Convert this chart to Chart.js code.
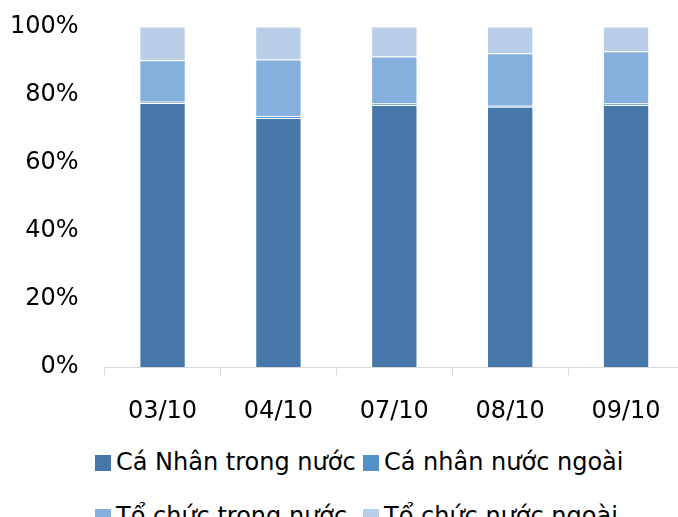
<!DOCTYPE html>
<html>
<head>
<meta charset="utf-8">
<script src="https://cdn.jsdelivr.net/npm/chart.js@4"></script>
<style>
    html, body { margin: 0; padding: 0; background: #fff; overflow: hidden; width: 678px; height: 517px; }
    #stack-chart { position: absolute; left: -16px; top: -14px; }
    #legend { position: absolute; left: 0; top: 0; font-family: "DejaVu Sans", sans-serif; font-size: 24px; color: #000; }
    .item { position: absolute; white-space: nowrap; height: 28px; line-height: 28px; }
    .box { display: inline-block; width: 16px; height: 16px; margin-right: 5px; vertical-align: -1px; }
</style>
</head>
<body>
<canvas id="stack-chart" width="700" height="462"></canvas>
<div id="legend"></div>
<script>
    // dati (percentuali)
    var categories = ['03/10', '04/10', '07/10', '08/10', '09/10'];
    var caNhanTrongNuoc = [77.5, 73.1, 76.9, 76.4, 76.9];
    var caNhanNuocNgoai = [0.4, 0.6, 0.5, 0.3, 0.5];
    var toChucTrongNuoc = [12.2, 16.6, 13.8, 15.4, 15.3];
    var toChucNuocNgoai = [9.9, 9.7, 8.8, 7.9, 7.3];
    var yTicks = [0, 20, 40, 60, 80, 100];

    var series = [
        { label: 'Cá Nhân trong nước', data: caNhanTrongNuoc, color: '#4677a8' },
        { label: 'Cá nhân nước ngoài', data: caNhanNuocNgoai, color: '#5490c8' },
        { label: 'Tổ chức trong nước', data: toChucTrongNuoc, color: '#85afdc' },
        { label: 'Tổ chức nước ngoài', data: toChucNuocNgoai, color: '#b9cee8' }
    ];

    var font = { family: 'DejaVu Sans', size: 24 };

    function makeStackChart() {
        var ctx = document.getElementById('stack-chart');
        var datasets = series.map(function (s) {
            return {
                label: s.label,
                data: s.data,
                backgroundColor: s.color,
                borderColor: 'rgba(255,255,255,0.5)',
                borderWidth: 1,
                barPercentage: 0.4,
                categoryPercentage: 1
            };
        });

        new Chart(ctx, {
            type: 'bar',
            data: {
                labels: categories,
                datasets: datasets
            },
            options: {
                responsive: false,
                animation: false,
                layout: { padding: 0 },
                plugins: {
                    legend: { display: false },
                    tooltip: { enabled: false }
                },
                scales: {
                    x: {
                        stacked: true,
                        grid: { drawOnChartArea: false, tickLength: 8, color: '#d9d9d9', offset: true },
                        border: { color: '#d9d9d9' },
                        ticks: { color: '#000', font: font, padding: 22 }
                    },
                    y: {
                        stacked: true,
                        min: 0,
                        max: 100,
                        afterBuildTicks: function (axis) {
                            axis.ticks = yTicks.map(function (v) { return { value: v }; });
                        },
                        grid: { display: false, drawTicks: false },
                        border: { display: false },
                        ticks: {
                            color: '#000',
                            font: font,
                            padding: 26,
                            callback: function (v) { return v + '%'; }
                        }
                    }
                }
            }
        });
    }

    function makeLegend() {
        var pos = [[95, 448], [363, 448], [95, 502], [363, 502]];
        var el = document.getElementById('legend');
        series.forEach(function (s, i) {
            var item = document.createElement('div');
            item.className = 'item';
            item.style.left = pos[i][0] + 'px';
            item.style.top = pos[i][1] + 'px';
            item.innerHTML = '<span class="box" style="background:' + s.color + '"></span>' + s.label;
            el.appendChild(item);
        });
    }

    makeStackChart();
    makeLegend();
</script>
</body>
</html>
